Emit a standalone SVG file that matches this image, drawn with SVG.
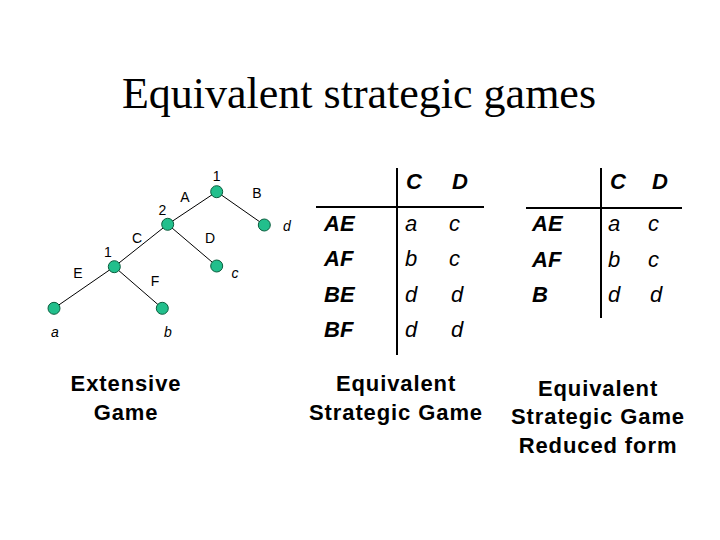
<svg xmlns="http://www.w3.org/2000/svg" width="720" height="540" viewBox="0 0 720 540">
<style>
.title{font-family:"Liberation Serif","Times New Roman",serif;font-size:44px;fill:#000}
.lbl{font-family:"Liberation Sans",Arial,sans-serif;font-size:14px;fill:#000;text-anchor:middle}
.it{font-style:italic}
.cap{font-family:"Liberation Sans",Arial,sans-serif;font-size:22px;font-weight:bold;fill:#000;text-anchor:middle;letter-spacing:0.9px}
.hd{font-family:"Liberation Sans",Arial,sans-serif;font-size:22px;font-weight:bold;font-style:italic;fill:#000}
.val{font-family:"Liberation Sans",Arial,sans-serif;font-size:22px;font-style:italic;fill:#000}
.node{fill:#22bf8c;stroke:#0b5e3e;stroke-width:1}
.edge{stroke:#000;stroke-width:1;fill:none}
.rule{stroke:#000;stroke-width:2;fill:none}
</style>
<rect width="720" height="540" fill="#fff"/>
<text class="title" x="359" y="108" text-anchor="middle">Equivalent strategic games</text>
<g id="connectors">
<line class="edge" x1="216.7" y1="191.7" x2="167.7" y2="224.3"/>
<line class="edge" x1="216.7" y1="191.7" x2="264.3" y2="225"/>
<line class="edge" x1="167.7" y1="224.3" x2="114.3" y2="266.7"/>
<line class="edge" x1="167.7" y1="224.3" x2="216.7" y2="266"/>
<line class="edge" x1="114.3" y1="266.7" x2="54" y2="308.3"/>
<line class="edge" x1="114.3" y1="266.7" x2="162.3" y2="308.3"/>
</g>
<g id="n-root"><circle class="node" cx="216.7" cy="191.7" r="6"/><text class="lbl" x="216.7" y="181">1</text></g>
<g id="n-2"><circle class="node" cx="167.7" cy="224.3" r="6"/><text class="lbl" x="162.5" y="215">2</text></g>
<g id="n-1b"><circle class="node" cx="114.3" cy="266.7" r="6"/><text class="lbl" x="108" y="256.5">1</text></g>
<g id="n-d"><circle class="node" cx="264.3" cy="225" r="6"/><text class="lbl it" x="287" y="231">d</text></g>
<g id="n-c"><circle class="node" cx="216.7" cy="266" r="6"/><text class="lbl it" x="235" y="278">c</text></g>
<g id="n-a"><circle class="node" cx="54" cy="308.3" r="6"/><text class="lbl it" x="55" y="337">a</text></g>
<g id="n-b"><circle class="node" cx="162.3" cy="308.3" r="6"/><text class="lbl it" x="168" y="337">b</text></g>
<g id="edge-labels">
<text class="lbl" x="185" y="202">A</text>
<text class="lbl" x="257" y="198">B</text>
<text class="lbl" x="137" y="243">C</text>
<text class="lbl" x="210" y="243">D</text>
<text class="lbl" x="78" y="278">E</text>
<text class="lbl" x="155" y="286">F</text>
</g>
<g id="table1">
<line class="rule" x1="397" y1="168" x2="397" y2="355"/>
<line class="rule" x1="316" y1="207" x2="484" y2="207"/>
<text class="hd" x="406" y="189">C</text>
<text class="hd" x="452" y="189">D</text>
<text class="hd" x="324" y="231">AE</text>
<text class="hd" x="324" y="266">AF</text>
<text class="hd" x="324" y="302">BE</text>
<text class="hd" x="324" y="337">BF</text>
<text class="val" x="405" y="231">a</text>
<text class="val" x="449" y="231">c</text>
<text class="val" x="405" y="266">b</text>
<text class="val" x="449" y="266">c</text>
<text class="val" x="405" y="302">d</text>
<text class="val" x="451" y="302">d</text>
<text class="val" x="405" y="337">d</text>
<text class="val" x="451" y="337">d</text>
</g>
<g id="table2">
<line class="rule" x1="601" y1="168" x2="601" y2="318"/>
<line class="rule" x1="526" y1="208" x2="682" y2="208"/>
<text class="hd" x="610" y="189">C</text>
<text class="hd" x="652" y="189">D</text>
<text class="hd" x="532" y="231">AE</text>
<text class="hd" x="532" y="267">AF</text>
<text class="hd" x="532" y="302">B</text>
<text class="val" x="608" y="231">a</text>
<text class="val" x="648" y="231">c</text>
<text class="val" x="608" y="267">b</text>
<text class="val" x="648" y="267">c</text>
<text class="val" x="608" y="302">d</text>
<text class="val" x="650" y="302">d</text>
</g>
<g id="captions">
<text class="cap" x="126" y="391">Extensive</text>
<text class="cap" x="126" y="420">Game</text>
<text class="cap" x="396" y="391">Equivalent</text>
<text class="cap" x="396" y="420">Strategic Game</text>
<text class="cap" x="598" y="396">Equivalent</text>
<text class="cap" x="598" y="424">Strategic Game</text>
<text class="cap" x="598" y="453">Reduced form</text>
</g>
</svg>
